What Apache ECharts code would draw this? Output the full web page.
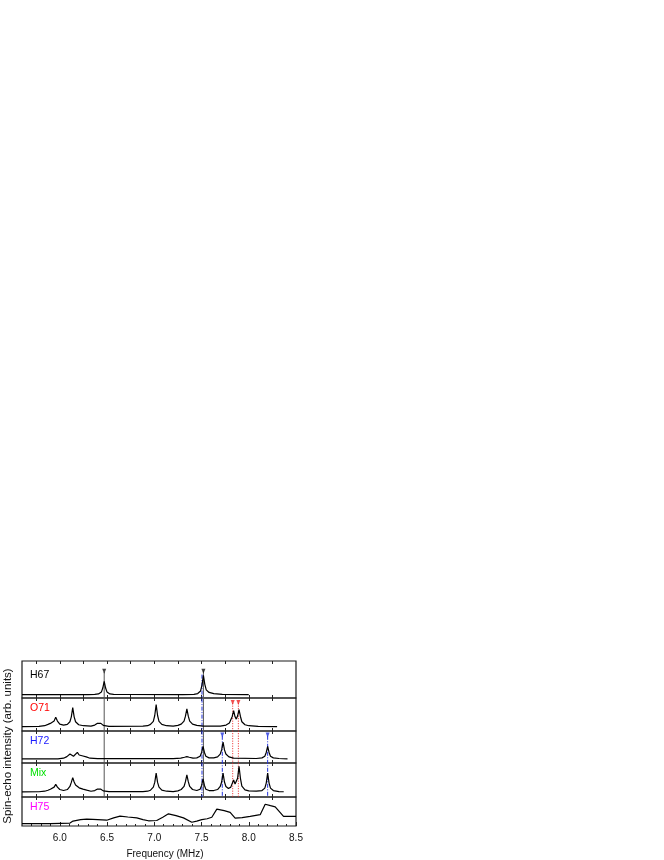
<!DOCTYPE html>
<html><head><meta charset="utf-8">
<script src="https://cdn.jsdelivr.net/npm/echarts@6/dist/echarts.min.js"></script>
<style>html,body{margin:0;padding:0;background:#fff}#c{width:664px;height:860px}</style>
</head><body><div id="c"></div>
<script>
const xMin = 5.6, xMax = 8.5;
const panelNames = ['H67', 'O71', 'H72', 'Mix', 'H75'];
const panelColors = ['#000000', '#ff0000', '#1a1aff', '#00e000', '#ff00ff'];
const tickLabels = ['6.0', '6.5', '7.0', '7.5', '8.0', '8.5'];
const majorTicks = [6.0, 6.5, 7.0, 7.5, 8.0, 8.5];
const minorTicks = [5.7, 5.8, 5.9, 6.0, 6.1, 6.2, 6.3, 6.4, 6.5, 6.6, 6.7, 6.8, 6.9, 7.0, 7.1, 7.2, 7.3, 7.4, 7.5, 7.6, 7.7, 7.8, 7.9, 8.0, 8.1, 8.2, 8.3, 8.4];
const quarterTicks = [5.75, 6.0, 6.25, 6.5, 6.75, 7.0, 7.25, 7.5, 7.75, 8.0, 8.25];

const h67 = [[5.6,0.09],[6.3,0.09],[6.37,0.10],[6.41,0.11],[6.44,0.16],[6.455,0.27],[6.47,0.45],[6.485,0.27],[6.5,0.16],[6.53,0.11],[6.57,0.10],[6.7,0.095],[7.3,0.09],[7.42,0.10],[7.46,0.12],[7.49,0.19],[7.505,0.35],[7.52,0.61],[7.535,0.37],[7.55,0.22],[7.58,0.15],[7.63,0.12],[7.72,0.10],[8.0,0.09]];
const o71 = [[5.6,0.13],[5.78,0.14],[5.84,0.16],[5.875,0.20],[5.9,0.23],[5.92,0.23],[5.94,0.30],[5.957,0.42],[5.975,0.30],[6.0,0.21],[6.04,0.18],[6.08,0.20],[6.107,0.28],[6.122,0.43],[6.137,0.71],[6.152,0.43],[6.167,0.28],[6.2,0.19],[6.25,0.16],[6.33,0.15],[6.37,0.18],[6.395,0.23],[6.416,0.29],[6.435,0.23],[6.46,0.17],[6.52,0.14],[6.88,0.145],[6.93,0.16],[6.96,0.20],[6.99,0.29],[7.005,0.47],[7.02,0.80],[7.035,0.47],[7.05,0.29],[7.08,0.20],[7.13,0.16],[7.2,0.15],[7.25,0.17],[7.285,0.21],[7.315,0.30],[7.33,0.45],[7.345,0.67],[7.36,0.45],[7.375,0.30],[7.405,0.21],[7.45,0.17],[7.52,0.15],[7.7,0.15],[7.76,0.18],[7.795,0.24],[7.81,0.30],[7.825,0.44],[7.84,0.62],[7.855,0.43],[7.868,0.36],[7.882,0.46],[7.897,0.65],[7.912,0.44],[7.927,0.28],[7.96,0.19],[8.0,0.16],[8.1,0.14],[8.3,0.13]];
const h72 = [[5.6,0.13],[5.98,0.13],[6.04,0.15],[6.075,0.20],[6.093,0.25],[6.108,0.28],[6.125,0.23],[6.145,0.21],[6.165,0.27],[6.186,0.33],[6.205,0.25],[6.225,0.21],[6.245,0.22],[6.26,0.24],[6.28,0.19],[6.32,0.15],[6.4,0.135],[7.2,0.135],[7.28,0.15],[7.32,0.18],[7.345,0.20],[7.37,0.18],[7.41,0.15],[7.45,0.16],[7.485,0.21],[7.501,0.33],[7.516,0.52],[7.531,0.33],[7.546,0.21],[7.58,0.16],[7.63,0.16],[7.67,0.19],[7.698,0.28],[7.713,0.41],[7.728,0.65],[7.743,0.41],[7.758,0.28],[7.79,0.19],[7.84,0.15],[8.08,0.14],[8.14,0.16],[8.17,0.21],[8.185,0.33],[8.2,0.52],[8.215,0.33],[8.23,0.21],[8.26,0.16],[8.32,0.14],[8.41,0.13]];
const mix = [[5.6,0.15],[5.78,0.155],[5.84,0.17],[5.875,0.20],[5.9,0.23],[5.92,0.24],[5.94,0.29],[5.957,0.37],[5.975,0.29],[6.0,0.22],[6.04,0.19],[6.08,0.22],[6.107,0.31],[6.122,0.43],[6.137,0.57],[6.152,0.44],[6.167,0.35],[6.186,0.33],[6.205,0.27],[6.225,0.22],[6.245,0.23],[6.26,0.25],[6.285,0.20],[6.33,0.17],[6.37,0.19],[6.395,0.23],[6.416,0.28],[6.435,0.23],[6.46,0.18],[6.52,0.16],[6.88,0.16],[6.93,0.17],[6.96,0.20],[6.99,0.29],[7.005,0.43],[7.02,0.70],[7.035,0.43],[7.05,0.29],[7.08,0.20],[7.13,0.17],[7.2,0.16],[7.25,0.18],[7.285,0.22],[7.315,0.31],[7.33,0.45],[7.345,0.65],[7.36,0.45],[7.375,0.31],[7.405,0.22],[7.45,0.19],[7.485,0.23],[7.501,0.34],[7.516,0.53],[7.531,0.34],[7.546,0.23],[7.58,0.19],[7.63,0.19],[7.67,0.22],[7.698,0.31],[7.713,0.44],[7.728,0.70],[7.743,0.44],[7.758,0.31],[7.785,0.25],[7.81,0.29],[7.825,0.40],[7.84,0.50],[7.855,0.38],[7.868,0.36],[7.882,0.55],[7.897,0.90],[7.912,0.55],[7.927,0.32],[7.96,0.21],[8.0,0.18],[8.08,0.17],[8.14,0.19],[8.17,0.26],[8.185,0.41],[8.2,0.70],[8.215,0.41],[8.23,0.26],[8.26,0.19],[8.32,0.16],[8.37,0.155]];
const h75 = [[5.6,0.08],[5.9,0.085],[6.108,0.10],[6.14,0.17],[6.161,0.21],[6.22,0.22],[6.285,0.24],[6.35,0.23],[6.4,0.22],[6.497,0.20],[6.57,0.28],[6.638,0.34],[6.72,0.31],[6.815,0.28],[6.88,0.22],[6.938,0.18],[7.026,0.19],[7.09,0.30],[7.15,0.42],[7.23,0.36],[7.309,0.28],[7.397,0.13],[7.45,0.17],[7.503,0.22],[7.56,0.25],[7.609,0.30],[7.662,0.58],[7.74,0.53],[7.803,0.47],[7.856,0.27],[7.93,0.29],[8.015,0.33],[8.121,0.39],[8.174,0.75],[8.23,0.70],[8.280,0.66],[8.368,0.33],[8.5,0.33]];
const traces = [h67, o71, h72, mix, h75];

// vertical guide lines: [x, top (fraction of overlay height)]
const grayLines = [[6.47, 0.92], [7.52, 0.93]];
const blueLines = [[7.505, 0.90], [7.72, 0.45], [8.2, 0.45]];
const redLines = [[7.83, 0.69], [7.89, 0.69]];
const blackArrows = [[6.47, 0.925], [7.52, 0.925]];
const redArrows = [[7.83, 0.695], [7.89, 0.695]];
const blueArrows = [[7.72, 0.455], [8.2, 0.455]];

const panelTop = [661, 698, 731, 763, 797];
const panelH = [37, 33, 32, 34, 29];
const L = 22, R = 368;
const font = '"Liberation Sans", Arial, sans-serif';

const grids = [], xAxes = [], yAxes = [], series = [], graphics = [];
for (let i = 0; i < 5; i++) {
  grids.push({left: L, right: R, top: panelTop[i], height: panelH[i], show: true, borderColor: '#1a1a1a', borderWidth: 1.2, backgroundColor: 'transparent'});
  const last = i === 4;
  xAxes.push({type: 'value', gridIndex: i, position: 'bottom', min: xMin, max: xMax,
    axisLine: {show: false}, splitLine: {show: false},
    axisTick: {show: true, inside: true, length: last ? 4 : 3, lineStyle: {color: '#222'}, customValues: last ? majorTicks : quarterTicks},
    axisLabel: last ? {show: true, customValues: majorTicks, formatter: v => tickLabels[majorTicks.indexOf(Math.round(v * 10) / 10)] || '', color: '#111', fontSize: 10, fontFamily: font, margin: 7} : {show: false}});
  xAxes.push({type: 'value', gridIndex: i, position: 'top', min: xMin, max: xMax,
    axisLine: {show: false}, splitLine: {show: false},
    axisTick: {show: true, inside: true, length: 3, lineStyle: {color: '#222'}, customValues: quarterTicks},
    axisLabel: {show: false}});
  yAxes.push({type: 'value', gridIndex: i, min: 0, max: 1, show: false});
  series.push({type: 'line', xAxisIndex: 2 * i, yAxisIndex: i, data: traces[i], showSymbol: false, silent: true,
    lineStyle: {color: '#000', width: 1.2}, z: 3});
  graphics.push({type: 'text', x: 30, y: panelTop[i] + 14 - (i === 0 ? 0 : 4), style: {text: panelNames[i], fill: panelColors[i], font: '10.5px ' + font, textVerticalAlign: 'middle'}});
}
// minor ticks for bottom axis
xAxes.push({type: 'value', gridIndex: 4, position: 'bottom', min: xMin, max: xMax,
  axisLine: {show: false}, splitLine: {show: false},
  axisTick: {show: true, inside: true, length: 2, lineStyle: {color: '#222'}, customValues: minorTicks},
  axisLabel: {show: false}});
// overlay grid spanning panels 1-4
grids.push({left: L, right: R, top: 661, height: 136, show: false});
xAxes.push({type: 'value', gridIndex: 5, min: xMin, max: xMax, show: false});
yAxes.push({type: 'value', gridIndex: 5, min: 0, max: 1, show: false});
const ox = 11, oy = 5;
grayLines.forEach(p => series.push({type: 'line', xAxisIndex: ox, yAxisIndex: oy, data: [[p[0], p[1]], [p[0], 0]], showSymbol: false, silent: true, lineStyle: {color: '#555', width: 1}, z: 2}));
blueLines.forEach(p => series.push({type: 'line', xAxisIndex: ox, yAxisIndex: oy, data: [[p[0], p[1]], [p[0], 0]], showSymbol: false, silent: true, lineStyle: {color: '#2233dd', width: 1, type: [4, 1.5, 1, 1.5]}, z: 2}));
redLines.forEach(p => series.push({type: 'line', xAxisIndex: ox, yAxisIndex: oy, data: [[p[0], p[1]], [p[0], 0]], showSymbol: false, silent: true, lineStyle: {color: '#ee2222', width: 1, type: [1, 1.5]}, z: 2}));
[[blackArrows, '#111'], [redArrows, '#ee2222'], [blueArrows, '#2233dd']].forEach(a => series.push({type: 'scatter', xAxisIndex: ox, yAxisIndex: oy, data: a[0], symbol: 'triangle', symbolRotate: 180, symbolSize: [4, 5], itemStyle: {color: a[1]}, silent: true, z: 4}));

graphics.push({type: 'text', x: 165, y: 854, style: {text: 'Frequency (MHz)', fill: '#111', font: '10px ' + font, textAlign: 'center', textVerticalAlign: 'middle'}});
graphics.push({type: 'text', x: 8, y: 746, rotation: Math.PI / 2, style: {text: 'Spin-echo intensity (arb. units)', fill: '#111', font: '11.5px ' + font, textAlign: 'center', textVerticalAlign: 'middle'}});

const chart = echarts.init(document.getElementById('c'), null, {renderer: 'canvas'});
chart.setOption({animation: false, backgroundColor: '#fff', grid: grids, xAxis: xAxes, yAxis: yAxes, series: series, graphic: graphics});
</script></body></html>
